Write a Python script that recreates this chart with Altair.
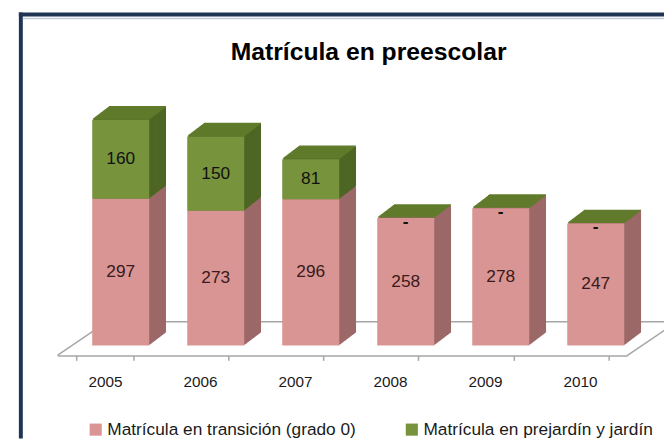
import altair as alt
import pandas as pd

# ---- data ----
years = ["2005", "2006", "2007", "2008", "2009", "2010"]
transicion = [297, 273, 296, 258, 278, 247]
prejardin = [160, 150, 81, 0, 0, 0]
series = ["Matrícula en transición (grado 0)", "Matrícula en prejardín y jardín"]
title_text = "Matrícula en preescolar"

# ---- styling ----
FONT = "Liberation Sans"
PINK, PINK_SIDE = "#D99594", "#9C6868"
GREEN, GREEN_TOP, GREEN_SIDE = "#77933C", "#5F7B2B", "#4E6624"
FLOOR = "#A6A6A6"
NAVY = "#1F3553"
W, H = 577, 240
SHIFT = 16          # front face shift relative to the floor band
DX, DY = 17, 13     # 3-D depth of the bars (pixels)

rows = []
for i, yr in enumerate(years):
    t, p = transicion[i], prejardin[i]
    rows.append(dict(year=yr, serie=series[0], value=t, y0=0, y1=t, order=0))
    rows.append(dict(year=yr, serie=series[1], value=p, y0=t, y1=t + p, order=1))
df = pd.DataFrame(rows)
df["mid"] = (df["y0"] + df["y1"]) / 2
df["label"] = df["value"].map(lambda v: "-" if v == 0 else str(v))
tot = pd.DataFrame(dict(year=years, total=[a + b for a, b in zip(transicion, prejardin)]))
one = pd.DataFrame({"a": [0]})

xscale = alt.Scale(domain=years, paddingInner=0.4, paddingOuter=0.2)
xaxis = alt.Axis(title=None, labelAngle=0, domainColor=FLOOR, domainWidth=1.5,
                 tickColor=FLOOR, tickWidth=1.5, tickSize=5, tickBand="extent",
                 labelFont=FONT, labelFontSize=15.5, labelColor="#1a1a1a",
                 labelPadding=14, offset=10, grid=False)
X = alt.X("year:N", scale=xscale, axis=xaxis, sort=years)
yscale = alt.Scale(domain=[0, 480], nice=False, zero=False)

layers = []

# chart frame (border of the original box)
layers.append(alt.Chart(one).mark_rule(color=NAVY, strokeWidth=4).encode(
    x=alt.value(-37), y=alt.value(-97), y2=alt.value(H + 94)))
layers.append(alt.Chart(one).mark_rule(color=NAVY, strokeWidth=4).encode(
    x=alt.value(-39), x2=alt.value(W + 37), y=alt.value(-95)))
layers.append(alt.Chart(one).mark_rule(color="#C3CDDA", strokeWidth=1.5).encode(
    x=alt.value(-35), x2=alt.value(W + 37), y=alt.value(-91)))

# title
layers.append(alt.Chart(one).mark_text(
    text=title_text, font=FONT, fontSize=25, fontWeight="bold", color="#000000",
    align="center", baseline="middle").encode(x=alt.value(315), y=alt.value(-57)))

# floor
layers.append(alt.Chart(one).mark_rule(color=FLOOR, strokeWidth=1.5, yOffset=-24).encode(
    x=alt.value(50), x2=alt.value(W + 50), y=alt.Y(datum=0, scale=yscale, axis=None)))
for x0 in (0, W):
    layers.append(alt.Chart(one).mark_rule(color=FLOOR, strokeWidth=1.5,
                                           yOffset=10, y2Offset=-24).encode(
        x=alt.value(x0), x2=alt.value(x0 + 50),
        y=alt.Y(datum=0, scale=yscale, axis=None), y2=alt.Y2(datum=0)))

# extruded depth (side faces)
for k in range(DX, 0, -1):
    off = -k * DY / DX
    layers.append(alt.Chart(df).mark_bar(xOffset=SHIFT + k, yOffset=off, y2Offset=off).encode(
        x=X, y=alt.Y("y1:Q", scale=yscale, axis=None), y2="y0:Q",
        color=alt.condition("datum.order == 0", alt.value(PINK_SIDE), alt.value(GREEN_SIDE))))

# top faces
for k in range(1, DX + 1):
    off = -k * DY / DX
    layers.append(alt.Chart(tot).mark_bar(color=GREEN_TOP, xOffset=SHIFT + k,
                                          yOffset=off - 1.0, y2Offset=off + 0.3).encode(
        x=X, y=alt.Y("total:Q", scale=yscale, axis=None), y2="total:Q"))

# front faces
layers.append(alt.Chart(df).mark_bar(xOffset=SHIFT).encode(
    x=X, y=alt.Y("y1:Q", scale=yscale, axis=None), y2="y0:Q",
    color=alt.Color("serie:N", scale=alt.Scale(domain=series, range=[PINK, GREEN]),
                    legend=alt.Legend(orient="none", legendX=30, legendY=316,
                                      direction="horizontal", title=None,
                                      symbolType="square", symbolSize=150,
                                      symbolStrokeWidth=0, labelFont=FONT,
                                      labelFontSize=17.5, labelColor="#1a1a1a",
                                      labelOffset=3, columnPadding=47,
                                      labelLimit=400))))

# value labels
layers.append(alt.Chart(df).transform_filter("datum.value > 0").mark_text(
    dx=SHIFT, font=FONT, fontSize=17.5, baseline="middle").encode(
    x=X, y=alt.Y("mid:Q", scale=yscale, axis=None), text="label:N",
    color=alt.condition("datum.order == 0", alt.value("#3A1A1A"), alt.value("#111111"))))
layers.append(alt.Chart(df).transform_filter("datum.value == 0").mark_text(
    dx=SHIFT, dy=4, font=FONT, fontSize=17.5, fontWeight="bold", baseline="middle",
    color="#111111").encode(
    x=X, y=alt.Y("mid:Q", scale=yscale, axis=None), text="label:N"))

chart = alt.layer(*layers).properties(
    width=W, height=H,
    autosize=alt.AutoSizeParams(type="none"),
    padding={"left": 50, "top": 99, "right": 37, "bottom": 94},
    background="white",
).configure_view(strokeOpacity=0)

chart.save("out.html", embed_options={"renderer": "svg", "actions": False})
